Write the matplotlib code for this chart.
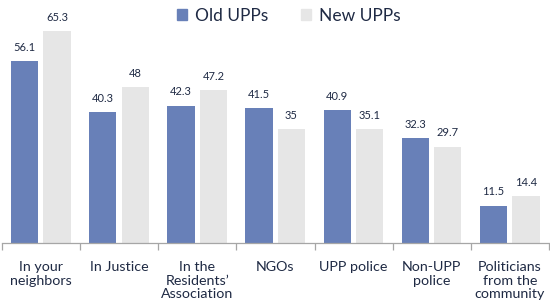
import numpy as np
import matplotlib.pyplot as plt
from matplotlib.patches import Patch

categories = ['In your\nneighbors', 'In Justice', 'In the\nResidents\u2019\nAssociation',
              'NGOs', 'UPP police', 'Non-UPP\npolice', 'Politicians\nfrom the\ncommunity']
old_upps = [56.1, 40.3, 42.3, 41.5, 40.9, 32.3, 11.5]
new_upps = [65.3, 48, 47.2, 35, 35.1, 29.7, 14.4]
series_names = ['Old UPPs', 'New UPPs']

BLUE = '#6880B8'
GREY = '#E6E6E6'
INK = '#1F2A44'
AXIS = '#A6A6A6'
FONT = ['Lato', 'DejaVu Sans']

fig = plt.figure(figsize=(5.5, 3.05), dpi=100, facecolor='white')
ax = fig.add_axes([0.0036, 0.203, 0.9946, 0.745])

x = np.arange(len(categories))
w = 0.35
b1 = ax.bar(x - 0.21, old_upps, w, color=BLUE, zorder=2)
b2 = ax.bar(x + 0.205, new_upps, w, color=GREY, zorder=2)

for bars, vals in ((b1, old_upps), (b2, new_upps)):
    for r, v in zip(bars, vals):
        ax.annotate(f'{v:g}', (r.get_x() + r.get_width() / 2, v),
                    xytext=(0, 6), textcoords='offset points',
                    ha='center', va='bottom', fontsize=8, color=INK,
                    family=FONT)

ax.set_xlim(-0.5, len(categories) - 0.5)
ax.set_ylim(0, 70)
ax.set_yticks([])
for s in ('top', 'right', 'left'):
    ax.spines[s].set_visible(False)
ax.spines['bottom'].set_color(AXIS)
ax.spines['bottom'].set_linewidth(0.9)

ax.set_xticks(np.arange(-0.5, len(categories)), [''] * (len(categories) + 1))
ax.tick_params(axis='x', which='major', length=5, color=AXIS, width=0.9)
ax.set_xticks(x, categories, minor=True)
ax.tick_params(axis='x', which='minor', length=0, pad=13)
for lab in ax.get_xticklabels(minor=True):
    lab.set_fontsize(10.3)
    lab.set_color(INK)
    lab.set_family(FONT)
    lab.set_linespacing(1.15)
    lab.set_verticalalignment('top')

handles = [Patch(color=BLUE), Patch(color=GREY)]
fig.legend(handles, series_names, loc='upper center', bbox_to_anchor=(0.525, 1.025),
           ncol=2, frameon=False, handlelength=0.6, handleheight=0.6,
           handletextpad=0.45, columnspacing=1.9,
           prop={'family': FONT, 'size': 12.5}, labelcolor=INK)

fig.savefig('out.png', dpi=100, facecolor='white')
